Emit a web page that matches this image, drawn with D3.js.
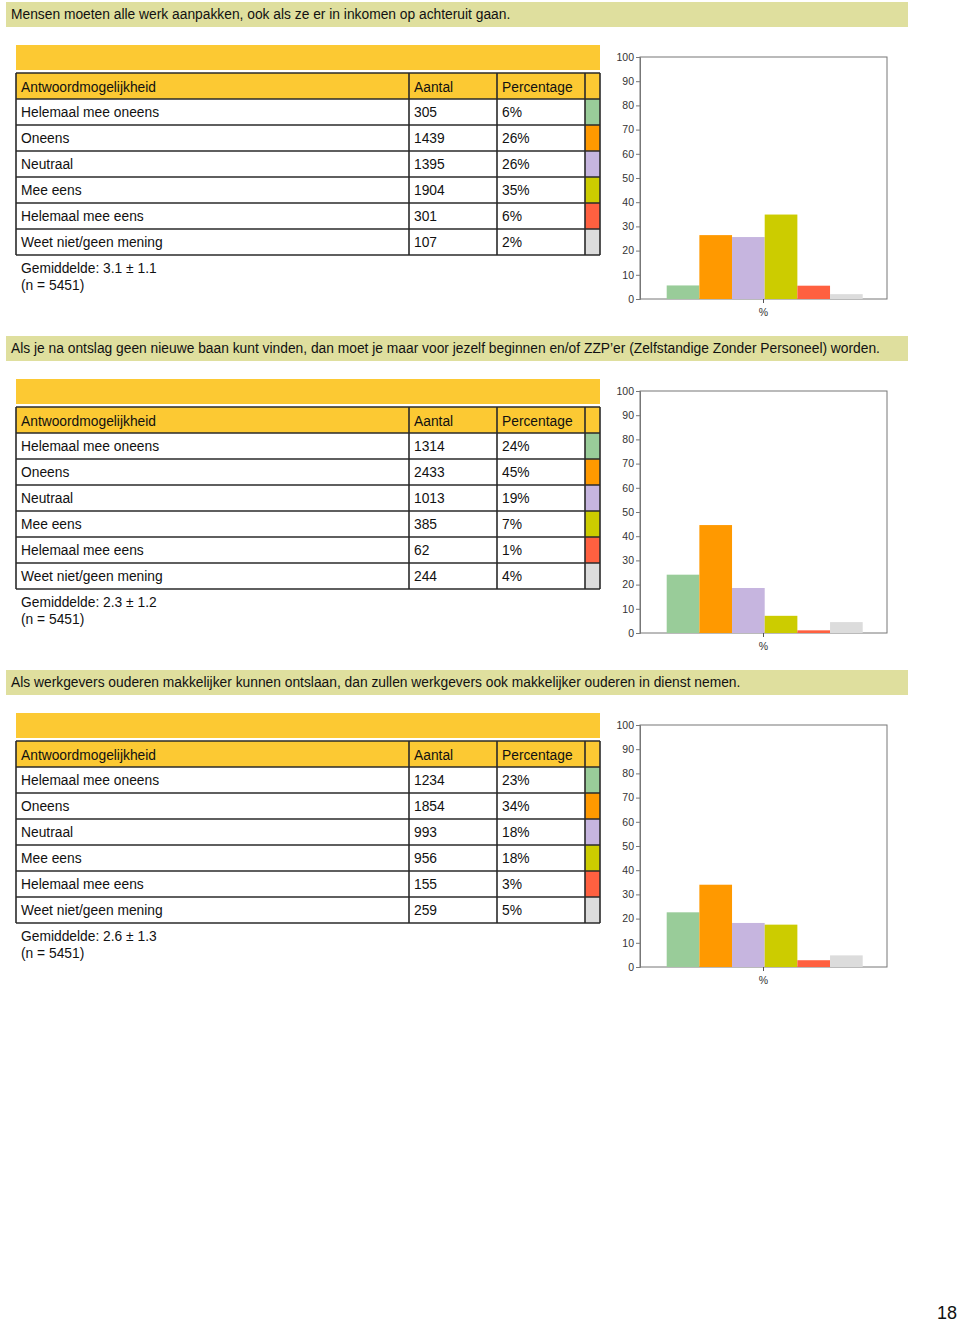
<!DOCTYPE html>
<html><head><meta charset="utf-8">
<script src="https://cdn.jsdelivr.net/npm/d3@7"></script>
<style>
html,body{margin:0;padding:0;background:#fff;}
svg{display:block;font-family:"Liberation Sans",Arial,Helvetica,sans-serif;}
</style></head>
<body>
<svg id="c" width="960" height="1324"></svg>
<script>
const titles = [
  "Mensen moeten alle werk aanpakken, ook als ze er in inkomen op achteruit gaan.",
  "Als je na ontslag geen nieuwe baan kunt vinden, dan moet je maar voor jezelf beginnen en/of ZZP\u2019er (Zelfstandige Zonder Personeel) worden.",
  "Als werkgevers ouderen makkelijker kunnen ontslaan, dan zullen werkgevers ook makkelijker ouderen in dienst nemen."
];
const headers = ["Antwoordmogelijkheid", "Aantal", "Percentage"];
const categories = ["Helemaal mee oneens", "Oneens", "Neutraal", "Mee eens", "Helemaal mee eens", "Weet niet/geen mening"];
const countsA = [305, 1439, 1395, 1904, 301, 107];
const countsB = [1314, 2433, 1013, 385, 62, 244];
const countsC = [1234, 1854, 993, 956, 155, 259];
const pctLabelsA = ["6%", "26%", "26%", "35%", "6%", "2%"];
const pctLabelsB = ["24%", "45%", "19%", "7%", "1%", "4%"];
const pctLabelsC = ["23%", "34%", "18%", "18%", "3%", "5%"];
const barsA = [5.6, 26.4, 25.6, 34.9, 5.5, 2.0];
const barsB = [24.1, 44.6, 18.6, 7.1, 1.1, 4.5];
const barsC = [22.6, 34.0, 18.2, 17.5, 2.8, 4.8];
const means = ["Gemiddelde: 3.1 \u00b1 1.1", "Gemiddelde: 2.3 \u00b1 1.2", "Gemiddelde: 2.6 \u00b1 1.3"];
const nLabels = ["(n = 5451)", "(n = 5451)", "(n = 5451)"];
const yTicks = [0, 10, 20, 30, 40, 50, 60, 70, 80, 90, 100];
const xLabel = ["%"];
const pageNumber = "18";

const colors = ["#99cc99", "#ff9900", "#c6b5df", "#cccc00", "#ff6040", "#dcdcdc"];
const sections = [
  {title: titles[0], counts: countsA, pcts: pctLabelsA, bars: barsA, mean: means[0], n: nLabels[0]},
  {title: titles[1], counts: countsB, pcts: pctLabelsB, bars: barsB, mean: means[1], n: nLabels[1]},
  {title: titles[2], counts: countsC, pcts: pctLabelsC, bars: barsC, mean: means[2], n: nLabels[2]}
];

const svg = d3.select("#c");
const color = d3.scaleOrdinal(categories, colors);
const colX = [16, 409, 497, 585, 600];
const lineCol = "#2a2a2a";
const fs = 13.8;

sections.forEach((s, i) => {
  const g = svg.append("g").attr("transform", `translate(0,${i * 334})`);
  g.append("rect").attr("x", 6).attr("y", 2).attr("width", 902).attr("height", 25).attr("fill", "#dfdf9e");
  g.append("text").attr("x", 11).attr("y", 19).attr("font-size", fs).attr("fill", "#111").text(s.title);
  g.append("rect").attr("x", 16).attr("y", 45).attr("width", 584).attr("height", 25).attr("fill", "#fcc933");
  const rowScale = d3.scaleBand().domain(["__h"].concat(categories)).range([73, 255]).padding(0);
  g.append("rect").attr("x", colX[0]).attr("y", rowScale("__h")).attr("width", colX[4] - colX[0]).attr("height", rowScale.bandwidth()).attr("fill", "#fcc933");
  g.selectAll("rect.sw").data(categories).join("rect").attr("class", "sw")
    .attr("x", colX[3]).attr("y", d => rowScale(d)).attr("width", colX[4] - colX[3]).attr("height", rowScale.bandwidth())
    .attr("fill", d => color(d));
  const hl = [rowScale("__h")].concat(categories.map(c => rowScale(c))).concat([255]);
  g.selectAll("line.h").data(hl).join("line").attr("class", "h")
    .attr("x1", colX[0]).attr("x2", colX[4]).attr("y1", d => d).attr("y2", d => d)
    .attr("stroke", lineCol).attr("stroke-width", 1.6);
  g.selectAll("line.v").data(colX).join("line").attr("class", "v")
    .attr("x1", d => d).attr("x2", d => d).attr("y1", 73).attr("y2", 255)
    .attr("stroke", lineCol).attr("stroke-width", 1.6);
  headers.forEach((h, k) => {
    g.append("text").attr("x", colX[k] + 5).attr("y", rowScale("__h") + 19).attr("font-size", fs).attr("fill", "#111").text(h);
  });
  categories.forEach((c, k) => {
    const y = rowScale(c) + 18;
    g.append("text").attr("x", colX[0] + 5).attr("y", y).attr("font-size", fs).attr("fill", "#111").text(c);
    g.append("text").attr("x", colX[1] + 5).attr("y", y).attr("font-size", fs).attr("fill", "#111").text(s.counts[k]);
    g.append("text").attr("x", colX[2] + 5).attr("y", y).attr("font-size", fs).attr("fill", "#111").text(s.pcts[k]);
  });
  g.append("text").attr("x", 21).attr("y", 273).attr("font-size", fs).attr("fill", "#111").text(s.mean);
  g.append("text").attr("x", 21).attr("y", 290).attr("font-size", fs).attr("fill", "#111").text(s.n);

  const y = d3.scaleLinear().domain([0, 100]).range([299, 57]);
  const xOuter = d3.scaleBand().domain(xLabel).range([640, 887]);
  const xInner = d3.scaleBand().domain(categories).range([xOuter(xLabel[0]) + 26.7, xOuter(xLabel[0]) + xOuter.bandwidth() - 24.3]);
  g.append("rect").attr("x", 640).attr("y", 57).attr("width", 247).attr("height", 242)
    .attr("fill", "#fff").attr("stroke", "#777").attr("stroke-width", 1);
  g.selectAll("rect.bar").data(categories).join("rect").attr("class", "bar")
    .attr("x", d => xInner(d)).attr("width", xInner.bandwidth())
    .attr("y", (d, k) => y(s.bars[k])).attr("height", (d, k) => y(0) - y(s.bars[k]))
    .attr("fill", d => color(d));
  const ya = g.append("g").attr("transform", "translate(640,0)")
    .call(d3.axisLeft(y).tickValues(yTicks).tickSize(4).tickPadding(2).tickFormat(d3.format("d")));
  ya.select(".domain").attr("stroke", "#777");
  ya.selectAll(".tick line").attr("stroke", "#777");
  ya.selectAll(".tick text").attr("font-size", 10.5).attr("fill", "#333").attr("font-family", "Arial,'Liberation Sans',sans-serif");
  const xa = g.append("g").attr("transform", "translate(0,299)")
    .call(d3.axisBottom(xOuter).tickSize(4).tickPadding(6));
  xa.select(".domain").remove();
  xa.selectAll(".tick line").attr("stroke", "#555");
  xa.selectAll(".tick text").attr("font-size", 10.5).attr("fill", "#333");
});

svg.append("text").attr("x", 957).attr("y", 1319).attr("text-anchor", "end").attr("font-size", 18).attr("fill", "#111").text(pageNumber);
</script>
</body></html>
